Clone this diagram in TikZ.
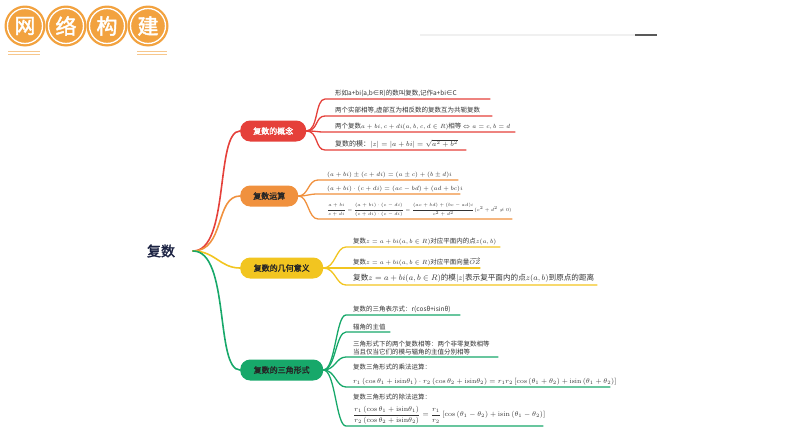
\documentclass[tikz,border=0pt]{standalone}
\usepackage{amsmath}
\usepackage{graphicx}
\usepackage{fontspec}
\newfontfamily\cjk{Noto Sans CJK SC}
\newfontfamily\cjkb[FakeBold=2]{Noto Sans CJK SC}
\usetikzlibrary{backgrounds}
\definecolor{cred}{HTML}{E5403A}
\definecolor{corange}{HTML}{F0913E}
\definecolor{cyellow}{HTML}{F2C520}
\definecolor{cgreen}{HTML}{17A86A}
\definecolor{ctitle}{HTML}{F2A23F}
\definecolor{cnavy}{HTML}{1B2242}
\definecolor{ctext}{HTML}{333333}
\tikzset{
  titlecirc/.style={circle, fill=ctitle, draw=white, line width=1.3pt, minimum size=35pt, inner sep=0pt, text=white, font=\cjkb\fontsize{21}{22}\selectfont},
  titlering/.style={circle, fill=ctitle, minimum size=41pt, inner sep=0pt},
  mainbox/.style={rounded corners=10pt, minimum height=21pt, inner sep=0pt, anchor=west, font=\cjkb\fontsize{8}{9}\selectfont, text=black!85},
  childtext/.style={anchor=south west, inner sep=0pt, align=left, font=\cjk\fontsize{6.5}{8}\selectfont, text=ctext},
  link/.style={line width=1.6pt, line cap=round},
  sublink/.style={line width=1.3pt, line cap=round},
}
\begin{document}
\begin{tikzpicture}[x=1pt,y=-1pt]
\useasboundingbox (0,0) rectangle (794,447);
% title
\node[titlering] (r1) at (25,26) {};
\node[titlering] (r2) at (66,26) {};
\node[titlering] (r3) at (107,26) {};
\node[titlering] (r4) at (148,26) {};
\node[titlecirc] (t1) at (r1) {网};
\node[titlecirc] (t2) at (r2) {络};
\node[titlecirc] (t3) at (r3) {构};
\node[titlecirc] (t4) at (r4) {建};
\draw[ctitle!60, line width=0.8pt] (8,51) -- (40,51) (8,54) -- (40,54);
\draw[ctitle!60, line width=0.8pt] (137,51) -- (167,51) (137,54) -- (167,54);
% top right rule
\coordinate (g1) at (420,35); \coordinate (g2) at (635,35); \coordinate (g3) at (657,35);
\draw[black!6, line width=1.5pt] (g1) -- (g2);
\draw[black!65, line width=2pt] (g2) -- (g3);
% root
\node[font=\cjkb\fontsize{14}{16}\selectfont, text=cnavy] (root) at (161,251) {复数};
\coordinate (r0) at (193,251);
% main nodes
\node[mainbox, fill=cred, text=white, minimum width=66pt] (n1) at (240,131) {复数的概念};
\node[mainbox, fill=corange, minimum width=58pt] (n2) at (240,196) {复数运算};
\node[mainbox, fill=cyellow, minimum width=83pt] (n3) at (240,268) {复数的几何意义};
\node[mainbox, fill=cgreen, minimum width=83pt] (n4) at (240,370) {复数的三角形式};
\begin{scope}[on background layer]
\draw[link, cred] (r0) .. controls (230,251) and (215,131) .. (n1.west);
\draw[link, corange] (r0) .. controls (225,251) and (215,196) .. (n2.west);
\draw[link, cyellow] (r0) .. controls (215,251) and (220,268) .. (n3.west);
\draw[link, cgreen] (r0) .. controls (230,251) and (215,370) .. (n4.west);
\end{scope}
% red children
\coordinate (a1s) at (325,99); \coordinate (a1e) at (490,99);
\coordinate (a2s) at (325,116); \coordinate (a2e) at (492,116);
\coordinate (a3s) at (325,132); \coordinate (a3e) at (515,132);
\coordinate (a4s) at (325,150); \coordinate (a4e) at (466,150);
\node[childtext] (a1) at (335,97) {形如a+bi(a,b∈R)的数叫复数,记作a+bi∈C};
\node[childtext] (a2) at (335,114) {两个实部相等,虚部互为相反数的复数互为共轭复数};
\node[childtext] (a3) at (335,130) {两个复数$a+bi,c+di(a,b,c,d\in R)$相等 $\Leftrightarrow a=c,b=d$};
\node[childtext, font=\cjk\fontsize{7}{8}\selectfont] (a4) at (335,148) {复数的模：$|z|=|a+bi|=\sqrt{a^2+b^2}$};
\foreach \k in {1,2,3,4}{
  \draw[sublink, cred] (n1.east) .. controls +(12,0) and +(-10,0) .. (a\k s) -- (a\k e);
}
% orange children
\coordinate (b1s) at (318,180); \coordinate (b1e) at (458,180);
\coordinate (b2s) at (318,194); \coordinate (b2e) at (460,194);
\coordinate (b3s) at (318,219); \coordinate (b3e) at (512,219);
\node[childtext] (b1) at (327,178) {$(a+bi)\pm(c+di)=(a\pm c)+(b\pm d)i$};
\node[childtext] (b2) at (327,192) {$(a+bi)\cdot(c+di)=(ac-bd)+(ad+bc)i$};
\node[childtext, font=\cjk\fontsize{5.5}{7}\selectfont] (b3) at (327,217) {\scalebox{0.9}{$\dfrac{a+bi}{c+di}=\dfrac{(a+bi)\cdot(c-di)}{(c+di)\cdot(c-di)}=\dfrac{(ac+bd)+(bc-ad)i}{c^2+d^2}(c^2+d^2\neq 0)$}};
\foreach \k in {1,2,3}{
  \draw[sublink, corange] (n2.east) .. controls +(10,0) and +(-10,0) .. (b\k s) -- (b\k e);
}
% yellow children
\coordinate (c1s) at (346,247); \coordinate (c1e) at (500,247);
\coordinate (c2s) at (346,268); \coordinate (c2e) at (480,268);
\coordinate (c3s) at (346,285); \coordinate (c3e) at (597,285);
\node[childtext] (c1) at (353,245) {复数$z=a+bi(a,b\in R)$对应平面内的点$z(a,b)$};
\node[childtext] (c2) at (353,266) {复数$z=a+bi(a,b\in R)$对应平面向量$\overrightarrow{OZ}$};
\node[childtext, font=\cjk\fontsize{7.6}{9}\selectfont] (c3) at (353,283) {复数$z=a+bi(a,b\in R)$的模$|z|$表示复平面内的点$z(a,b)$到原点的距离};
\foreach \k in {1,2,3}{
  \draw[sublink, cyellow] (n3.east) .. controls +(12,0) and +(-10,0) .. (c\k s) -- (c\k e);
}
% green children
\coordinate (d1s) at (346,315); \coordinate (d1e) at (460,315);
\coordinate (d2s) at (346,332); \coordinate (d2e) at (390,332);
\coordinate (d3s) at (346,357); \coordinate (d3e) at (498,357);
\coordinate (d4s) at (346,387); \coordinate (d4e) at (610,387);
\coordinate (d5s) at (346,426); \coordinate (d5e) at (543,426);
\node[childtext, font=\cjk\fontsize{6.5}{8}\selectfont] (d1) at (353,313) {复数的三角表示式：r(cosθ+isinθ)};
\node[childtext, font=\cjk\fontsize{6.5}{8}\selectfont] (d2) at (353,330) {辐角的主值};
\node[childtext, font=\cjk\fontsize{6.5}{7.5}\selectfont] (d3) at (353,355) {三角形式下的两个复数相等：两个非零复数相等\\当且仅当它们的模与辐角的主值分别相等};
\node[childtext, font=\cjk\fontsize{6.5}{8}\selectfont] (d4l) at (353,370) {复数三角形式的乘法运算：};
\node[childtext, font=\cjk\fontsize{6.8}{8}\selectfont] (d4) at (353,385) {$r_1\left(\cos\theta_1+\mathrm{isin}\theta_1\right)\cdot r_2\left(\cos\theta_2+\mathrm{isin}\theta_2\right)=r_1r_2\left[\cos\left(\theta_1+\theta_2\right)+\mathrm{isin}\left(\theta_1+\theta_2\right)\right]$};
\node[childtext, font=\cjk\fontsize{6.5}{8}\selectfont] (d5l) at (353,400) {复数三角形式的除法运算：};
\node[childtext, font=\cjk\fontsize{7}{8}\selectfont] (d5) at (353,424) {$\dfrac{r_1\left(\cos\theta_1+\mathrm{isin}\theta_1\right)}{r_2\left(\cos\theta_2+\mathrm{isin}\theta_2\right)}=\dfrac{r_1}{r_2}\left[\cos\left(\theta_1-\theta_2\right)+\mathrm{isin}\left(\theta_1-\theta_2\right)\right]$};
\foreach \k in {1,2,3,4,5}{
  \draw[sublink, cgreen] (n4.east) .. controls +(12,0) and +(-10,0) .. (d\k s) -- (d\k e);
}
\end{tikzpicture}
\end{document}
